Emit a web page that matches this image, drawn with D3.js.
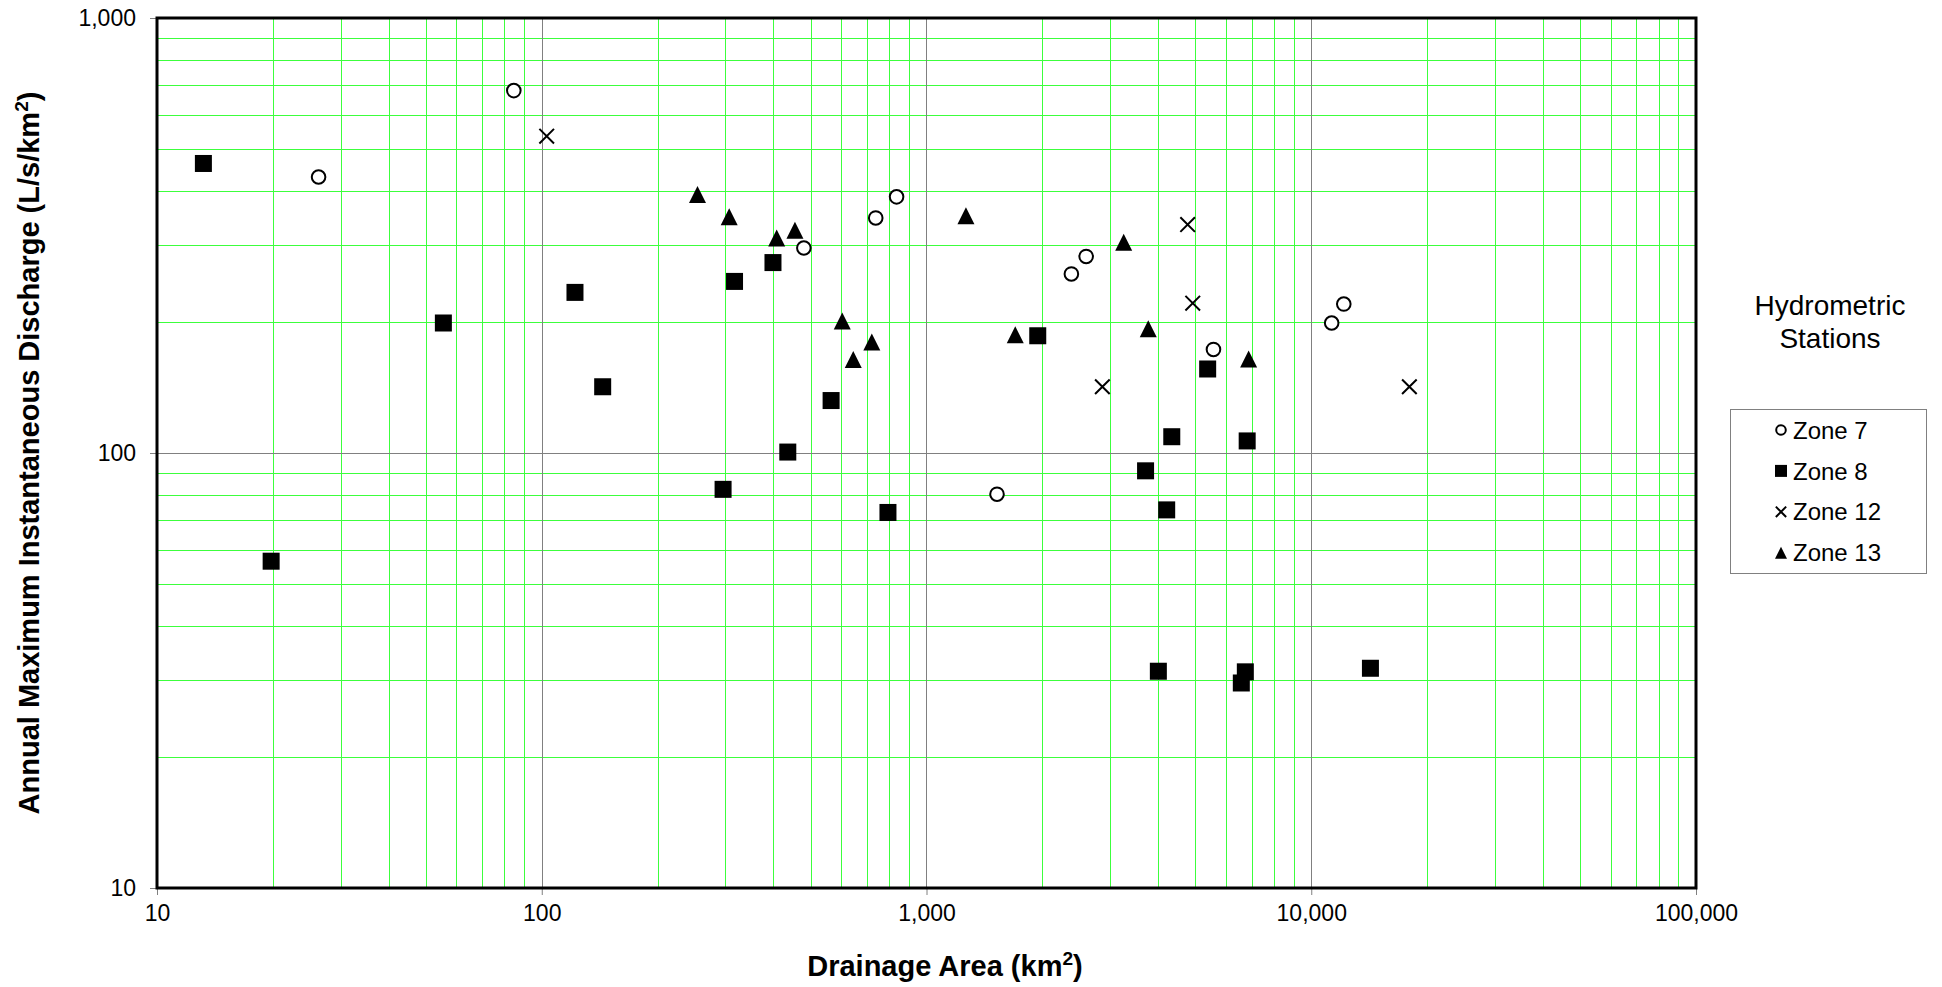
<!DOCTYPE html>
<html>
<head>
<meta charset="utf-8">
<script src="https://cdn.jsdelivr.net/npm/d3@7"></script>
<style>
  html, body { margin: 0; padding: 0; background: #ffffff; }
  svg { display: block; }
  text { font-family: "Liberation Sans", Arial, sans-serif; fill: #000; }
</style>
</head>
<body>
<svg id="chart" width="1942" height="987"></svg>
<script>
// ---------------- data (drainage area km², discharge L/s/km²) ----------------
const seriesNames = ["Zone 7", "Zone 8", "Zone 12", "Zone 13"];

const zone7 = [
  [26.3, 431], [84.6, 681], [480, 296], [738, 347], [836, 388],
  [1525, 80.4], [2380, 258], [2600, 283], [5570, 173], [11300, 199], [12150, 220]
];
const zone8 = [
  [13.2, 463], [19.8, 56.4], [55.5, 199], [122, 234], [144, 142],
  [296, 82.5], [317, 248], [399, 274], [436, 100.5], [565, 132],
  [794, 73], [1946, 186], [3710, 91], [4005, 31.5], [4210, 74],
  [4340, 109], [5380, 156], [6580, 29.6], [6740, 31.4], [6815, 106.6], [14250, 32]
];
const zone12 = [
  [103, 535], [2865, 142], [4773, 335], [4920, 221], [17990, 142]
];
const zone13 = [
  [254, 393], [307, 349], [408, 312], [455, 325], [604, 201],
  [645, 164], [721, 180], [1266, 351], [1701, 187], [3255, 305],
  [3770, 193], [6875, 164.5]
];

const xTickValues = [10, 100, 1000, 10000, 100000];
const xTickLabels = ["10", "100", "1,000", "10,000", "100,000"];
const yTickValues = [10, 100, 1000];
const yTickLabels = ["10", "100", "1,000"];

const xTitleParts = ["Drainage Area (km", "2", ")"];
const yTitleParts = ["Annual Maximum Instantaneous Discharge (L/s/km", "2", ")"];
const legendTitle = ["Hydrometric", "Stations"];

// ---------------- layout ----------------
const svg = d3.select("#chart");
const L = 157, R = 1696, T = 18, B = 888;

const x = d3.scaleLog().domain([10, 100000]).range([L, R]);
const y = d3.scaleLog().domain([10, 1000]).range([B, T]);

const isMajor = v => Math.abs(Math.log10(v) - Math.round(Math.log10(v))) < 1e-9;
const px = v => Math.round(v) + 0.5;

// grid
const grid = svg.append("g");
x.ticks().filter(v => !isMajor(v)).forEach(v => {
  grid.append("line").attr("x1", px(x(v))).attr("x2", px(x(v)))
    .attr("y1", T).attr("y2", B)
    .attr("stroke", "#3cff3c").attr("stroke-width", 1);
});
y.ticks().filter(v => !isMajor(v)).forEach(v => {
  grid.append("line").attr("x1", L).attr("x2", R)
    .attr("y1", px(y(v))).attr("y2", px(y(v)))
    .attr("stroke", "#3cff3c").attr("stroke-width", 1);
});
x.ticks().filter(v => isMajor(v) && v > 10 && v < 100000).forEach(v => {
  grid.append("line").attr("x1", px(x(v))).attr("x2", px(x(v)))
    .attr("y1", T).attr("y2", B)
    .attr("stroke", "#808080").attr("stroke-width", 1);
});
y.ticks().filter(v => isMajor(v) && v > 10 && v < 1000).forEach(v => {
  grid.append("line").attr("x1", L).attr("x2", R)
    .attr("y1", px(y(v))).attr("y2", px(y(v)))
    .attr("stroke", "#808080").attr("stroke-width", 1);
});

// axes (ticks + labels)
const xAxis = d3.axisBottom(x).tickValues(xTickValues)
  .tickFormat((d, i) => xTickLabels[i]).tickSize(7).tickPadding(10);
const gx = svg.append("g").attr("transform", `translate(0,${B})`).call(xAxis);
gx.select(".domain").remove();
gx.selectAll(".tick line").attr("stroke", "#808080");
gx.selectAll(".tick text").attr("font-size", 23)
  .attr("font-family", "Liberation Sans, Arial, sans-serif").attr("fill", "#000");

const yAxis = d3.axisLeft(y).tickValues(yTickValues)
  .tickFormat((d, i) => yTickLabels[i]).tickSize(7).tickPadding(14);
const gy = svg.append("g").attr("transform", `translate(${L},0)`).call(yAxis);
gy.select(".domain").remove();
gy.selectAll(".tick line").attr("stroke", "#808080");
gy.selectAll(".tick text").attr("font-size", 23)
  .attr("font-family", "Liberation Sans, Arial, sans-serif").attr("fill", "#000");

// plot frame
svg.append("rect").attr("x", L).attr("y", T).attr("width", R - L).attr("height", B - T)
  .attr("fill", "none").attr("stroke", "#000").attr("stroke-width", 3);

// ---------------- markers ----------------
function drawMarker(g, type, cx, cy, s) {
  if (type === "circle") {
    g.append("circle").attr("cx", cx).attr("cy", cy).attr("r", s * 0.4)
      .attr("fill", "#fff").attr("stroke", "#000").attr("stroke-width", 2);
  } else if (type === "square") {
    g.append("rect").attr("x", cx - s / 2).attr("y", cy - s / 2)
      .attr("width", s).attr("height", s).attr("fill", "#000");
  } else if (type === "x") {
    const h = s * 0.43;
    g.append("path").attr("d", `M${cx - h},${cy - h}L${cx + h},${cy + h}M${cx - h},${cy + h}L${cx + h},${cy - h}`)
      .attr("stroke", "#000").attr("stroke-width", 2).attr("fill", "none");
  } else if (type === "triangle") {
    const h = s / 2;
    g.append("path").attr("d", `M${cx},${cy - h}L${cx + h},${cy + h}L${cx - h},${cy + h}Z`)
      .attr("fill", "#000");
  }
}

const seriesData = [zone7, zone8, zone12, zone13];
const seriesMarkers = ["circle", "square", "x", "triangle"];
const pts = svg.append("g");
seriesData.forEach((data, si) => {
  data.forEach(d => drawMarker(pts, seriesMarkers[si], x(d[0]), y(d[1]), 17));
});

// ---------------- titles ----------------
function titleWithSup(sel, parts, size) {
  sel.append("tspan").text(parts[0]);
  sel.append("tspan").attr("font-size", size * 0.66).attr("dy", -size * 0.38).text(parts[1]);
  sel.append("tspan").attr("dy", size * 0.38).text(parts[2]);
}

const xt = svg.append("text").attr("x", 945).attr("y", 976).attr("text-anchor", "middle")
  .attr("font-size", 29).attr("font-weight", "bold");
titleWithSup(xt, xTitleParts, 29);

const yt = svg.append("text").attr("transform", `translate(39,${(T + B) / 2}) rotate(-90)`)
  .attr("text-anchor", "middle").attr("font-size", 29).attr("font-weight", "bold");
titleWithSup(yt, yTitleParts, 29);

// ---------------- legend ----------------
const lt = svg.append("g");
legendTitle.forEach((t, i) => {
  lt.append("text").attr("x", 1830).attr("y", 315 + i * 33).attr("text-anchor", "middle")
    .attr("font-size", 28).text(t);
});
svg.append("rect").attr("x", 1730.5).attr("y", 409.5).attr("width", 196).attr("height", 164)
  .attr("fill", "#fff").attr("stroke", "#808080").attr("stroke-width", 1);
const lg = svg.append("g");
seriesNames.forEach((name, i) => {
  const cy = 430 + i * 40.9;
  drawMarker(lg, seriesMarkers[i], 1781, cy, 12);
  lg.append("text").attr("x", 1793).attr("y", cy).attr("dy", "0.36em")
    .attr("font-size", 24).text(name);
});
</script>
</body>
</html>
